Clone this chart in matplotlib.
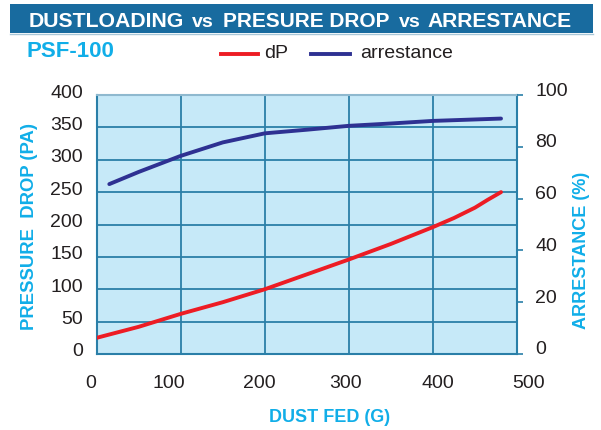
import matplotlib
matplotlib.use("Agg")
import matplotlib.pyplot as plt
from matplotlib import font_manager
from matplotlib.patches import Rectangle
from matplotlib.lines import Line2D
from matplotlib.transforms import ScaledTranslation

# ---- data ----
dust_dp = [0, 50, 100, 150, 200, 250, 300, 350, 400, 425, 450, 465, 481]
dp_vals = [25, 42, 62, 80, 100, 123, 146, 170, 196, 210, 226, 238, 250]
dust_ar = [15, 50, 100, 150, 200, 250, 300, 350, 400, 481]
ar_vals = [65.6, 70.3, 76.5, 81.7, 85.2, 86.6, 88.1, 89.0, 90.0, 90.9]
x_ticks = [0, 100, 200, 300, 400, 500]
y_left_ticks = [0, 50, 100, 150, 200, 250, 300, 350, 400]
y_right_ticks = [0, 20, 40, 60, 80, 100]
title_words = ["DUSTLOADING", "vs", "PRESURE DROP", "vs", "ARRESTANCE"]

names = {f.name for f in font_manager.fontManager.ttflist}
BASE = "Liberation Sans" if "Liberation Sans" in names else "DejaVu Sans"

W, H = 601, 430
fig = plt.figure(figsize=(W / 100, H / 100), dpi=100)
renderer = fig.canvas.get_renderer()

def fx(px):
    return px / W

def fy(py):
    return (H - py) / H

# plot area
ax = fig.add_axes([fx(96.7), fy(354), fx(517) - fx(96.7), fy(95) - fy(354)])
ax.set_facecolor("#c6e9f8")
ax.set_xlim(0, 500)
ax.set_ylim(0, 400)
grid_c = "#2a7fa8"
ax.set_xticks(x_ticks)
ax.set_yticks(y_left_ticks)
ax.grid(True, color=grid_c, linewidth=1.3)
ax.set_axisbelow(True)
for s in ["left", "bottom", "right"]:
    ax.spines[s].set_color(grid_c)
    ax.spines[s].set_linewidth(1.5)
ax.spines["top"].set_color("#8fb9cf")
ax.spines["top"].set_linewidth(1.5)
ax.tick_params(axis="both", length=0, labelsize=14, labelcolor="#231f20")
ax.tick_params(axis="y", pad=10)
ax.tick_params(axis="x", pad=15)
for lab in ax.get_xticklabels() + ax.get_yticklabels():
    lab.set_family(BASE)

ax.plot(dust_dp, dp_vals, color="#ed1c24", linewidth=2.8, solid_capstyle="round", zorder=3)

ax2 = ax.twinx()
ax2.set_ylim(0, 100)
ax2.set_yticks(y_right_ticks)
ax2.tick_params(axis="y", length=4, width=1.2, color=grid_c, labelsize=14,
                labelcolor="#231f20", pad=9)
for lab in ax2.get_yticklabels():
    lab.set_family(BASE)
for s in ax2.spines.values():
    s.set_visible(False)
ax2.plot(dust_ar, ar_vals, color="#2e3192", linewidth=2.8, solid_capstyle="round", zorder=3)

# tick label offsets as in the reference
for lab in ax.get_yticklabels():
    lab.set_transform(lab.get_transform() + ScaledTranslation(0, 4 / 100, fig.dpi_scale_trans))
for lab in ax2.get_yticklabels():
    lab.set_transform(lab.get_transform() + ScaledTranslation(0, 6 / 100, fig.dpi_scale_trans))
x_shift = [-6, -12, -6, -3, 5, 12]
for lab, dx in zip(ax.get_xticklabels(), x_shift):
    lab.set_transform(lab.get_transform() + ScaledTranslation(dx / 100, 0, fig.dpi_scale_trans))

# axis labels
cyan = "#11aee8"
fig.text(fx(30), fy(227), "PRESSURE  DROP (PA)", rotation=90, color=cyan, fontsize=13.3,
         fontweight="bold", family=BASE, ha="center", va="center")
fig.text(fx(582), fy(250), "ARRESTANCE (%)", rotation=90, color=cyan, fontsize=13,
         fontweight="bold", family=BASE, ha="center", va="center")
fig.text(fx(330), fy(417), "DUST FED (G)", color=cyan, fontsize=13,
         fontweight="bold", family=BASE, ha="center", va="center")

# title banner
fig.patches.append(Rectangle((fx(10), fy(33)), fx(593) - fx(10), fy(4) - fy(33),
                             transform=fig.transFigure, facecolor="#186b9f",
                             edgecolor="none", zorder=0))
fig.lines.append(Line2D([fx(10), fx(593)], [fy(33.5), fy(33.5)], transform=fig.transFigure,
                        color="#a9c7d8", linewidth=1))
title_span = [(29, 185), (192, 210), (223, 390), (399, 420), (427, 572)]
for word, (x0, x1) in zip(title_words, title_span):
    if word == "vs":
        fig.text(fx(x0), fy(27.3), word, color="white", fontsize=14,
                 fontweight="bold", family=BASE, ha="left", va="baseline")
        continue
    t = fig.text(fx(x0), fy(27.3), word, color="white", fontsize=15,
                 fontweight="bold", family=BASE, ha="left", va="baseline")
    w = t.get_window_extent(renderer).width
    t.set_fontsize(15 * (x1 - x0) / w)

# subtitle
fig.text(fx(27), fy(57), "PSF-100", color=cyan, fontsize=16, fontweight="bold",
         family=BASE, ha="left", va="baseline")

# legend
fig.lines.append(Line2D([fx(221), fx(258)], [fy(54), fy(54)], transform=fig.transFigure,
                        color="#ed1c24", linewidth=2.8))
fig.text(fx(264), fy(54), "dP", color="#231f20", fontsize=14, family=BASE,
         ha="left", va="center")
fig.lines.append(Line2D([fx(311), fx(350)], [fy(54), fy(54)], transform=fig.transFigure,
                        color="#2e3192", linewidth=2.8))
fig.text(fx(360), fy(54), "arrestance", color="#231f20", fontsize=14, family=BASE,
         ha="left", va="center")

fig.savefig("out.png", dpi=100)
